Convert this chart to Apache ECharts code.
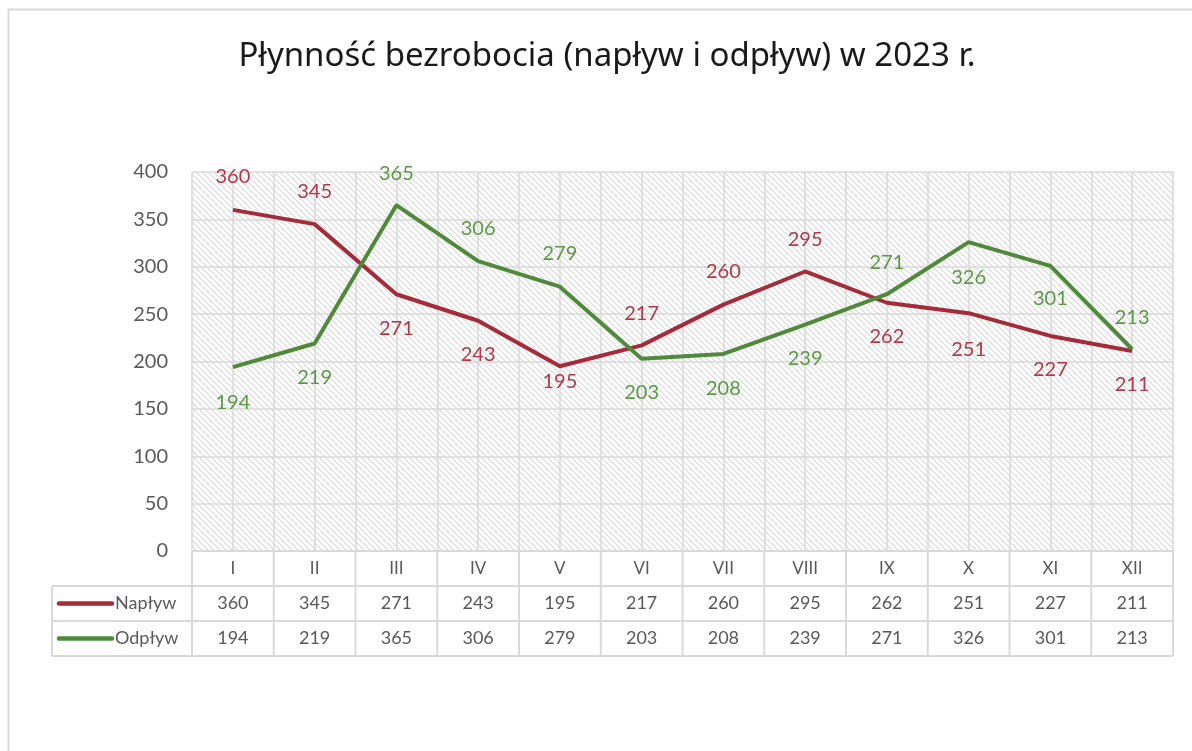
<!DOCTYPE html>
<html>
<head>
<meta charset="utf-8">
<script src="https://cdn.jsdelivr.net/npm/echarts@6/dist/echarts.min.js"></script>
<style>
  html, body { margin: 0; padding: 0; background: #fff; }
  #chart { width: 1192px; height: 751px; }
</style>
</head>
<body>
<div id="chart"></div>
<script>
// dane
const months = ['I', 'II', 'III', 'IV', 'V', 'VI', 'VII', 'VIII', 'IX', 'X', 'XI', 'XII'];
const naplyw = [360, 345, 271, 243, 195, 217, 260, 295, 262, 251, 227, 211];
const odplyw = [194, 219, 365, 306, 279, 203, 208, 239, 271, 326, 301, 213];
const yTicks = [0, 50, 100, 150, 200, 250, 300, 350, 400];

// położenie etykiet (przesunięcie w pionie względem punktu)
const napDy = [-33, -33, 34, 34, 15, -32, -33, -32, 34, 36, 34, 33];
const odpDy = [35, 34, -32, -33, -33, 34, 35, 34, -32, 35, 33, -32];

const RED = '#a42b3a', RED_TXT = '#b23848';
const GREEN = '#4f8a3b', GREEN_TXT = '#5b9a44';
const GRAY = '#595959', LINE = '#d9d9d9';
const FONT = 'Lato, "Noto Sans", sans-serif';

// siatka wykresu
const G = { left: 192, top: 172, width: 981, height: 379 };
const cellW = G.width / months.length;
const rowH = 35;

// wzór kreskowania tła
function hatch() {
  const c = document.createElement('canvas');
  c.width = 6; c.height = 6;
  const ctx = c.getContext('2d');
  ctx.fillStyle = '#fff';
  ctx.fillRect(0, 0, 6, 6);
  ctx.strokeStyle = '#d9d9d9';
  ctx.lineWidth = 1.1;
  ctx.beginPath();
  ctx.moveTo(-1, -1); ctx.lineTo(7, 7);
  ctx.moveTo(-1, 5); ctx.lineTo(1, 7);
  ctx.moveTo(5, -1); ctx.lineTo(7, 1);
  ctx.stroke();
  return c;
}

function seriesData(vals, dy) {
  return vals.map((v, i) => ({ value: v, label: { offset: [0, dy[i]] } }));
}

// tabela danych pod osią
function tableGraphics() {
  const els = [];
  const y0 = G.top + G.height;
  const right = G.left + G.width;
  const lineStyle = { stroke: LINE, lineWidth: 2 };
  // pionowe linie
  for (let k = 0; k <= months.length; k++) {
    const x = G.left + k * cellW;
    els.push({ type: 'line', shape: { x1: x, y1: y0, x2: x, y2: y0 + 3 * rowH }, style: lineStyle, silent: true });
  }
  els.push({ type: 'line', shape: { x1: 52, y1: y0 + rowH, x2: 52, y2: y0 + 3 * rowH }, style: lineStyle, silent: true });
  // poziome linie
  for (let r = 1; r <= 3; r++) {
    const y = y0 + r * rowH;
    els.push({ type: 'line', shape: { x1: 52, y1: y, x2: right, y2: y }, style: lineStyle, silent: true });
  }
  const rows = [
    { name: 'Napływ', vals: naplyw, color: RED },
    { name: 'Odpływ', vals: odplyw, color: GREEN }
  ];
  rows.forEach((row, r) => {
    const yc = y0 + (r + 1.5) * rowH;
    els.push({ type: 'line', shape: { x1: 59, y1: yc, x2: 112, y2: yc },
      style: { stroke: row.color, lineWidth: 4.5, lineCap: 'round' }, silent: true });
    els.push({ type: 'text', x: 115, y: yc,
      style: { text: row.name, fill: GRAY, font: '18px ' + FONT, textAlign: 'left', textVerticalAlign: 'middle' } });
    row.vals.forEach((v, i) => {
      els.push({ type: 'text', x: G.left + (i + 0.5) * cellW, y: yc,
        style: { text: String(v), fill: GRAY, font: '18px ' + FONT, textAlign: 'center', textVerticalAlign: 'middle' } });
    });
  });
  // ramka obszaru wykresu
  els.push({ type: 'rect', shape: { x: 8.5, y: 9.5, width: 1200, height: 800 },
    style: { fill: 'none', stroke: LINE, lineWidth: 2 }, silent: true, z: -1 });
  return els;
}

const chart = echarts.init(document.getElementById('chart'));
const option = {
  animation: false,
  backgroundColor: '#fff',
  title: {
    text: 'Płynność bezrobocia (napływ i odpływ) w 2023 r.',
    left: 602, top: 35, textAlign: 'center',
    textStyle: { fontFamily: '"Noto Sans", sans-serif', fontSize: 33, fontWeight: 'normal', color: '#1a1a1a' }
  },
  grid: {
    left: G.left, top: G.top, width: G.width, height: G.height,
    show: true, borderWidth: 0,
    backgroundColor: { image: hatch(), repeat: 'repeat' }
  },
  xAxis: [
    {
      type: 'category', data: months,
      axisLine: { lineStyle: { color: LINE, width: 2 } },
      axisTick: { show: false },
      splitLine: { show: false },
      axisLabel: { color: GRAY, fontFamily: FONT, fontSize: 17, margin: 9 }
    },
    {
      type: 'value', min: 0, max: months.length * 2, interval: 1,
      position: 'bottom',
      axisLine: { show: false }, axisTick: { show: false }, axisLabel: { show: false },
      splitLine: { show: true, lineStyle: { color: LINE, width: 1.5 } }
    }
  ],
  yAxis: {
    type: 'value', min: yTicks[0], max: yTicks[yTicks.length - 1], interval: yTicks[1] - yTicks[0],
    axisLine: { show: false }, axisTick: { show: false },
    axisLabel: { color: GRAY, fontFamily: FONT, fontSize: 20, margin: 24 },
    splitLine: { lineStyle: { color: LINE, width: 1.5 } }
  },
  series: [
    {
      name: 'Napływ', type: 'line', xAxisIndex: 0,
      data: seriesData(naplyw, napDy),
      symbol: 'circle', symbolSize: 0.1,
      lineStyle: { color: RED, width: 4 }, itemStyle: { color: RED },
      label: { show: true, position: 'inside', color: RED_TXT, fontFamily: FONT, fontSize: 20 },
      z: 3
    },
    {
      name: 'Odpływ', type: 'line', xAxisIndex: 0,
      data: seriesData(odplyw, odpDy),
      symbol: 'circle', symbolSize: 0.1,
      lineStyle: { color: GREEN, width: 4 }, itemStyle: { color: GREEN },
      label: { show: true, position: 'inside', color: GREEN_TXT, fontFamily: FONT, fontSize: 20 },
      z: 4
    }
  ],
  graphic: tableGraphics()
};
chart.setOption(option);
</script>
</body>
</html>
